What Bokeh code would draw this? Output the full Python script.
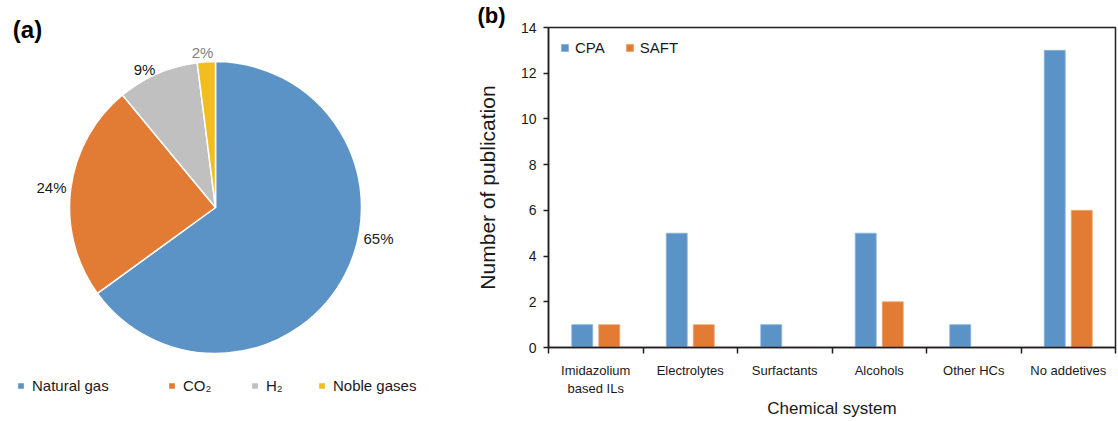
from bokeh.plotting import figure
from bokeh.models import Range1d, Legend, LegendItem, FixedTicker, Label, ColumnDataSource
from bokeh.layouts import row
from bokeh.embed import file_html
from bokeh.resources import INLINE
from bokeh.core.properties import value
import math

# ---------------- data ----------------
gas_names = ["Natural gas", "CO\u2082", "H\u2082", "Noble gases"]
gas_shares = [65, 24, 9, 2]

systems = ["Imidazolium\nbased ILs", "Electrolytes", "Surfactants", "Alcohols", "Other HCs", "No addetives"]
cpa_counts = [1, 5, 1, 5, 1, 13]
saft_counts = [1, 1, 0, 2, 0, 6]
y_ticks = [0, 2, 4, 6, 8, 10, 12, 14]

# ---------------- style ----------------
gas_colors = ["#5B93C7", "#E27B34", "#BFC0BF", "#F1BD1F"]
label_colors = ["#1A1A1A", "#1A1A1A", "#1A1A1A", "#808080"]
CPA_COLOR = "#5B93C7"
SAFT_COLOR = "#E27B34"
FONT = "Liberation Sans"
INK = "#1A1A1A"
AXIS = "#231F20"

H = 420
PIE_W = 470
BAR_W = 647


def py(y):
    # page y (down) -> pie data y (up)
    return H - y


# ---------------- (a) pie ----------------
pa = figure(width=PIE_W, height=H, x_range=Range1d(0, PIE_W), y_range=Range1d(0, H),
            x_axis_type=None, y_axis_type=None, toolbar_location=None,
            output_backend="svg", min_border=0)
pa.frame_align = False
pa.outline_line_color = None
pa.grid.visible = False
pa.background_fill_color = None
pa.border_fill_color = None

total = float(sum(gas_shares))
starts, ends = [], []
cum = 0.0
for v in gas_shares:
    starts.append(math.pi / 2 - 2 * math.pi * cum / total)
    cum += v
    ends.append(math.pi / 2 - 2 * math.pi * cum / total)

pie_cx, pie_cy, pie_r = 215, py(207), 146
src = ColumnDataSource(dict(name=gas_names, share=gas_shares, start=starts, end=ends,
                            color=gas_colors))
wedges = pa.wedge(x=pie_cx, y=pie_cy, radius=pie_r, start_angle="start", end_angle="end",
                  direction="clock", fill_color="color", line_color="white",
                  line_width=1.5, source=src)

# percentage labels (layout positions of the texts, page px)
lab_pos = [(378, 238), (51, 187), (144, 69), (202, 52)]
lsrc = ColumnDataSource(dict(x=[p[0] for p in lab_pos], y=[py(p[1]) for p in lab_pos],
                             t=[f"{v}%" for v in gas_shares], c=label_colors))
pa.text(x="x", y="y", text="t", text_color="c", source=lsrc, text_align="center",
        text_baseline="middle", text_font=value(FONT), text_font_size="15px")

pa.add_layout(Label(x=27, y=py(29), text="(a)", text_font=FONT, text_font_size="24px",
                    text_font_style="bold", text_color="black", text_align="center",
                    text_baseline="middle"))

# legend, one block per item at its own position
leg_x = [16, 167, 250, 317]
for i, name in enumerate(gas_names):
    lg = Legend(items=[LegendItem(label=name, renderers=[wedges], index=i)],
                location=(leg_x[i], 26), orientation="horizontal",
                glyph_width=9, glyph_height=9, label_standoff=7, padding=0, margin=0,
                border_line_color=None, background_fill_alpha=0,
                label_text_font=FONT, label_text_font_size="15px", label_text_color=INK)
    pa.add_layout(lg)

# ---------------- (b) bars ----------------
n = len(systems)
centers = [i + 0.5 for i in range(n)]
bounds = list(range(n + 1))

pb = figure(width=BAR_W, height=H, x_range=Range1d(0, n), y_range=Range1d(0, 14),
            toolbar_location=None, output_backend="svg",
            min_border_left=78, min_border_right=2, min_border_top=25, min_border_bottom=71)
pb.frame_align = False
pb.grid.visible = False
pb.outline_line_color = AXIS
pb.outline_line_width = 1.5
pb.background_fill_color = None
pb.border_fill_color = None

# panel tag "(b)" as the figure title, pulled to the left of the frame
pb.title.text = "(b)"
pb.title.align = "left"
pb.title.offset = -71
pb.title.standoff = 0
pb.title.text_font = FONT
pb.title.text_font_size = "22px"
pb.title.text_font_style = "bold"
pb.title.text_color = "black"

bsrc = ColumnDataSource(dict(xc=[c - 0.143 for c in centers], xs=[c + 0.143 for c in centers],
                             cpa=cpa_counts, saft=saft_counts))
r1 = pb.vbar(x="xc", top="cpa", width=0.222, bottom=0, source=bsrc,
             fill_color=CPA_COLOR, line_color="#8DB4DA", line_width=0.8)
r2 = pb.vbar(x="xs", top="saft", width=0.222, bottom=0, source=bsrc,
             fill_color=SAFT_COLOR, line_color="#EFA470", line_width=0.8)

leg = Legend(items=[LegendItem(label="CPA", renderers=[r1]), LegendItem(label="SAFT", renderers=[r2])],
             location="top_left", orientation="horizontal", glyph_width=9, glyph_height=9,
             label_standoff=6, spacing=20, padding=0, margin=12, border_line_color=None,
             background_fill_alpha=0, label_text_font=FONT, label_text_font_size="15px",
             label_text_color=INK)
pb.add_layout(leg)

# x axis: labels at category centres, ticks at category boundaries
xa = pb.xaxis[0]
xa.ticker = FixedTicker(ticks=centers, minor_ticks=bounds)
xa.major_label_overrides = {c: s for c, s in zip(centers, systems)}
xa.major_tick_out = 0
xa.major_tick_in = 0
xa.minor_tick_out = 6
xa.minor_tick_in = 0
xa.minor_tick_line_color = AXIS
xa.minor_tick_line_width = 1.5
xa.axis_line_color = AXIS
xa.axis_line_width = 1.5
xa.major_label_standoff = 9
xa.major_label_text_font = FONT
xa.major_label_text_font_size = "13px"
xa.major_label_text_color = INK
xa.axis_label = "Chemical system"
xa.axis_label_text_font = FONT
xa.axis_label_text_font_size = "17px"
xa.axis_label_text_font_style = "normal"
xa.axis_label_text_color = INK
xa.axis_label_standoff = 0

ya = pb.yaxis[0]
ya.ticker = FixedTicker(ticks=y_ticks)
ya.minor_tick_line_color = None
ya.major_tick_out = 5
ya.major_tick_in = 0
ya.major_tick_line_color = AXIS
ya.major_tick_line_width = 1.5
ya.axis_line_color = AXIS
ya.axis_line_width = 1.5
ya.major_label_standoff = 7
ya.major_label_text_font = FONT
ya.major_label_text_font_size = "14px"
ya.major_label_text_color = INK
ya.axis_label = "Number of publication"
ya.axis_label_text_font = FONT
ya.axis_label_text_font_size = "21px"
ya.axis_label_text_font_style = "normal"
ya.axis_label_text_color = INK
ya.axis_label_standoff = 19

layout = row(pa, pb)
open("out.html", "w").write(file_html(layout, INLINE))
